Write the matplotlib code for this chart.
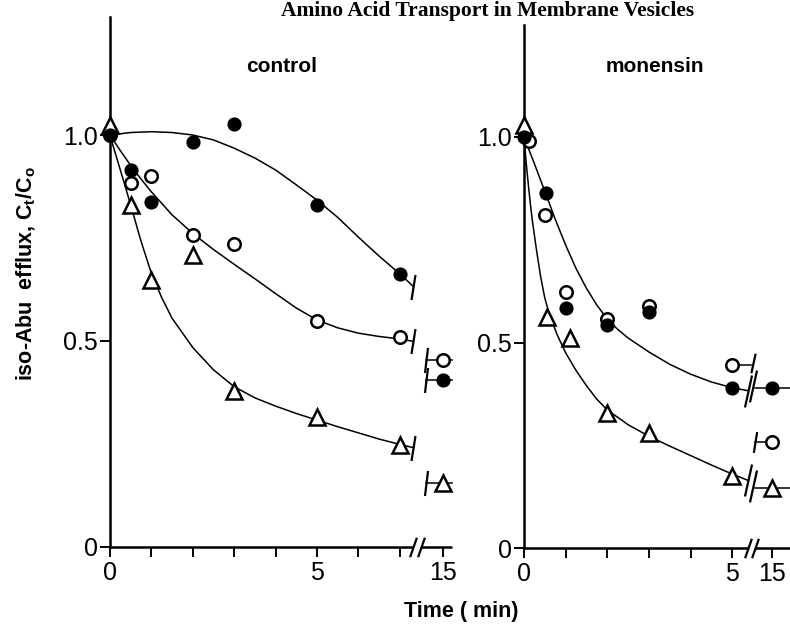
import matplotlib
matplotlib.use("Agg")
import matplotlib.pyplot as plt
from matplotlib.path import Path

# ---- data: time (min) vs C_t/C_0 ----
ctrl_t = [0, 0.5, 1, 2, 3, 5, 7, 15]
ctrl_filled = [1.0, 0.915, 0.837, 0.983, 1.027, 0.83, 0.663, 0.405]
ctrl_open = [1.0, 0.883, 0.90, 0.757, 0.735, 0.549, 0.51, 0.454]
ctrl_tri = [1.024, 0.83, 0.648, 0.709, 0.379, 0.316, 0.248, 0.155]

mon_t_filled = [0, 0.53, 1, 2, 3, 5, 15]
mon_filled = [1.0, 0.864, 0.584, 0.543, 0.574, 0.389, 0.389]
mon_t_open = [0.12, 0.5, 1, 2, 3, 5, 15]
mon_open = [0.99, 0.81, 0.623, 0.557, 0.59, 0.445, 0.258]
mon_t_tri = [0, 0.55, 1.1, 2, 3, 5, 15]
mon_tri = [1.03, 0.562, 0.51, 0.328, 0.28, 0.175, 0.146]

# hand-drawn fitted curves
fit_ctrl_filled_t = [0, 0.5, 1, 1.5, 2, 2.5, 3, 3.5, 4, 4.5, 5, 5.5, 6, 6.5, 7, 7.33]
fit_ctrl_filled = [1.0, 1.006, 1.008, 1.006, 1.0, 0.988, 0.968, 0.944, 0.915, 0.879,
                   0.842, 0.80, 0.752, 0.706, 0.663, 0.632]
fit_ctrl_open_t = [0, 0.25, 0.5, 0.75, 1, 1.5, 2, 2.5, 3, 3.5, 4, 4.5, 5, 5.5, 6,
                   6.5, 7, 7.33]
fit_ctrl_open = [1.0, 0.962, 0.926, 0.893, 0.862, 0.806, 0.761, 0.722, 0.686, 0.651,
                 0.615, 0.58, 0.551, 0.532, 0.519, 0.511, 0.505, 0.499]
fit_ctrl_tri_t = [0, 0.1, 0.25, 0.5, 0.75, 1, 1.25, 1.5, 2, 2.5, 3, 3.5, 4, 4.5, 5,
                  5.5, 6, 6.5, 7, 7.33]
fit_ctrl_tri = [1.0, 0.965, 0.915, 0.83, 0.742, 0.664, 0.605, 0.555, 0.484, 0.43,
                0.389, 0.362, 0.342, 0.324, 0.308, 0.292, 0.277, 0.262, 0.249, 0.241]

fit_mon_circ_t = [0, 0.25, 0.5, 0.75, 1, 1.25, 1.5, 1.75, 2, 2.25, 2.5, 3, 3.5, 4,
                  4.5, 5, 5.37]
fit_mon_circ = [1.0, 0.935, 0.868, 0.80, 0.737, 0.68, 0.632, 0.591, 0.557, 0.532,
                0.511, 0.477, 0.447, 0.423, 0.404, 0.39, 0.383]
fit_mon_tri_t = [0, 0.05, 0.1, 0.15, 0.2, 0.3, 0.4, 0.5, 0.6, 0.8, 1.0, 1.25, 1.5,
                 1.75, 2.0, 2.5, 3, 3.5, 4, 4.5, 5, 5.37]
fit_mon_tri = [1.0, 0.94, 0.888, 0.84, 0.797, 0.725, 0.66, 0.608, 0.572, 0.518,
               0.475, 0.432, 0.395, 0.362, 0.336, 0.300, 0.272, 0.248, 0.225, 0.202,
               0.18, 0.165]

# where "15 min" sits on the broken axis, and the break positions
X15_L, BRK_L, TAIL_L = 8.04, (7.33, 7.50), 8.26
X15_R, BRK_R, TAIL_R = 5.96, (5.37, 5.56), 6.39

LW_AX = 1.8
LW_FIT = 1.1
TICKFONT = ["Liberation Sans Narrow", "Liberation Sans"]
BOLDFONT = ["Liberation Sans", "DejaVu Sans"]


def slash(tilt):
    return Path([(-tilt, -1), (tilt, 1)], [Path.MOVETO, Path.LINETO])


def brk(t, x15):
    return [x15 if v == 15 else v for v in t]


def draw_points(ax, t, v, kind, x15):
    x = brk(t, x15)
    if kind == "filled":
        kw = dict(marker="o", ms=9, mfc="black", mec="black", mew=1.2)
    elif kind == "open":
        kw = dict(marker="o", ms=9, mfc="white", mec="black", mew=1.8)
    else:
        kw = dict(marker="^", ms=11.5, mfc="white", mec="black", mew=1.8)
    ax.plot(x, v, ls="none", zorder=5, clip_on=False, **kw)


def style_axis(ax, xmax, ymax, xt, xlabels, brk_pos):
    ax.set_xlim(0, xmax)
    ax.set_ylim(0, ymax)
    for s in ["top", "right", "bottom"]:
        ax.spines[s].set_visible(False)
    ax.spines["left"].set_linewidth(LW_AX)
    ax.set_yticks([0, 0.5, 1.0])
    ax.set_yticklabels(["0", "0.5", "1.0"])
    ax.set_xticks(xt)
    ax.set_xticklabels(xlabels)
    ax.tick_params(axis="y", direction="out", length=7, width=1.4, pad=1.5,
                   labelsize=18)
    ax.tick_params(axis="x", direction="out", length=7, width=1.4, pad=3,
                   labelsize=18)
    for lab in ax.get_xticklabels() + ax.get_yticklabels():
        lab.set_family(TICKFONT)
    # broken x axis line
    ax.plot([0, brk_pos[0]], [0, 0], color="black", lw=LW_AX, clip_on=False,
            solid_capstyle="butt")
    ax.plot([brk_pos[1], xmax], [0, 0], color="black", lw=LW_AX, clip_on=False,
            solid_capstyle="butt")
    ax.plot(list(brk_pos), [0, 0], ls="none", marker=slash(0.35), ms=14,
            mec="black", mew=1.6, clip_on=False)


fig = plt.figure(figsize=(7.9, 6.28), dpi=100, facecolor="white")

# ---------------- control ----------------
ax1 = fig.add_axes([110 / 790, 1 - 547 / 628, 342 / 790, 530 / 628])
style_axis(ax1, TAIL_L, 530 / 412, [0, 1, 2, 3, 4, 5, 6, 7, X15_L],
           ["0", "", "", "", "", "5", "", "", "15"], BRK_L)

for ft, fv in [(fit_ctrl_filled_t, fit_ctrl_filled),
               (fit_ctrl_open_t, fit_ctrl_open),
               (fit_ctrl_tri_t, fit_ctrl_tri)]:
    ax1.plot(ft, fv, color="black", lw=LW_FIT, zorder=3)
    ax1.plot([ft[-1]], [fv[-1]], marker=slash(0.16), ms=18, mec="black",
             mew=1.6, ls="none", clip_on=False)

# 15 min points: tick, short line through the point
for v15 in [ctrl_filled[-1], ctrl_open[-1], ctrl_tri[-1]]:
    ax1.plot([7.62, TAIL_L], [v15, v15], color="black", lw=LW_FIT,
             clip_on=False, zorder=3)
    ax1.plot([7.62], [v15], marker=slash(0.12), ms=18, mec="black", mew=1.6,
             ls="none", clip_on=False)

draw_points(ax1, ctrl_t, ctrl_open, "open", X15_L)
draw_points(ax1, ctrl_t, ctrl_tri, "tri", X15_L)
draw_points(ax1, ctrl_t, ctrl_filled, "filled", X15_L)

# ---------------- monensin ----------------
ax2 = fig.add_axes([524 / 790, 1 - 548 / 628, 266 / 790, 523 / 628])
style_axis(ax2, TAIL_R, 523 / 411, [0, 1, 2, 3, 4, 5, X15_R],
           ["0", "", "", "", "", "5", "15"], BRK_R)

for ft, fv, v15 in [(fit_mon_circ_t, fit_mon_circ, mon_filled[-1]),
                    (fit_mon_tri_t, fit_mon_tri, mon_tri[-1])]:
    ax2.plot(ft, fv, color="black", lw=LW_FIT, zorder=3)
    ax2.plot([BRK_R[1], TAIL_R], [v15, v15], color="black", lw=LW_FIT,
             clip_on=False, zorder=3)
    ax2.plot([BRK_R[0], BRK_R[1] - 0.06], [fv[-1], v15 + 0.005], ls="none",
             marker=slash(0.22), ms=23, mec="black", mew=1.6, clip_on=False)

# open circles at 5 and 15 min: short broken stubs
o5 = mon_open[-2]
ax2.plot([5, 5.45], [o5, o5], color="black", lw=LW_FIT, zorder=3)
ax2.plot([5.5], [o5 + 0.005], marker=slash(0.22), ms=14, mec="black", mew=1.6,
         ls="none", clip_on=False)
o15 = mon_open[-1]
ax2.plot([5.55, X15_R], [o15, o15], color="black", lw=LW_FIT, zorder=3)
ax2.plot([5.55], [o15], marker=slash(0.16), ms=15, mec="black", mew=1.6,
         ls="none", clip_on=False)

draw_points(ax2, mon_t_open, mon_open, "open", X15_R)
draw_points(ax2, mon_t_tri, mon_tri, "tri", X15_R)
draw_points(ax2, mon_t_filled, mon_filled, "filled", X15_R)

# ---------------- text ----------------
fig.text(488 / 790, 1 - 16 / 628, "Amino Acid Transport in Membrane Vesicles",
         ha="center", va="baseline", fontsize=15.5, fontweight="bold",
         family=["Liberation Serif", "DejaVu Serif"])
fig.text(282 / 790, 1 - 67 / 628, "control", ha="center", va="center",
         fontsize=15, fontweight="bold", family=BOLDFONT)
fig.text(655 / 790, 1 - 67 / 628, "monensin", ha="center", va="center",
         fontsize=15, fontweight="bold", family=BOLDFONT)
fig.text(461 / 790, 1 - 612 / 628, "Time ( min)", ha="center", va="center",
         fontsize=15.5, fontweight="bold", family=BOLDFONT)

plt.rcParams["mathtext.fontset"] = "custom"
plt.rcParams["mathtext.rm"] = "Liberation Sans:bold"
plt.rcParams["mathtext.it"] = "Liberation Sans:bold"
fig.text(26 / 790, 1 - 274 / 628, r"iso-Abu  efflux, C$_\mathrm{t}$/C$_\mathrm{o}$",
         ha="center", va="center", rotation=90, fontsize=15.5,
         fontweight="bold", family=BOLDFONT)

fig.savefig("out.png", dpi=100, facecolor="white")
